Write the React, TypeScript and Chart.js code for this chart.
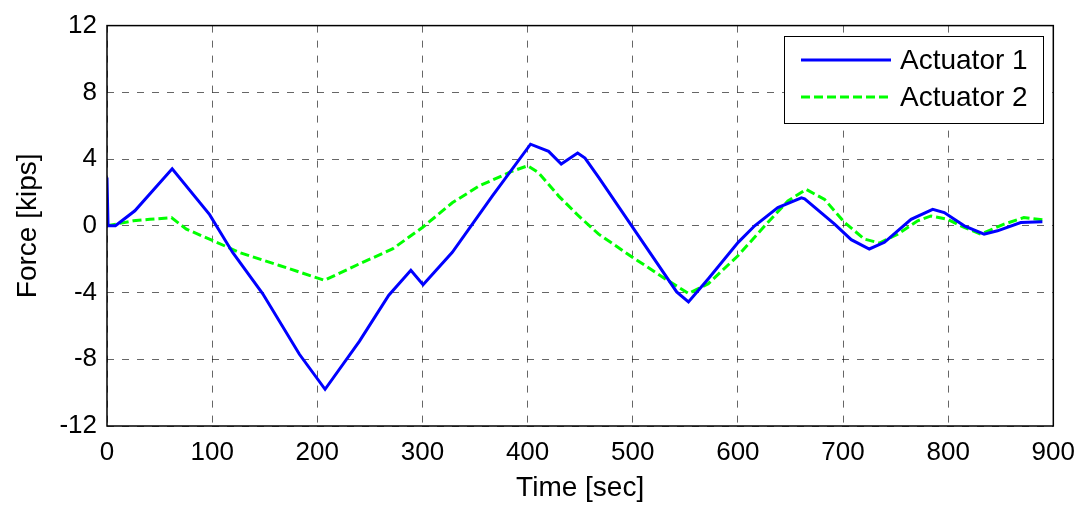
import React, { useEffect, useRef } from "react";
import { Chart, registerables } from "chart.js";

Chart.register(...registerables);

const xTicks = [0, 100, 200, 300, 400, 500, 600, 700, 800, 900];
const yTicks = [-12, -8, -4, 0, 4, 8, 12];

const labels = ["Actuator 1", "Actuator 2"];

const time1 = [0, 1, 8, 26.5, 62, 97.6, 104, 119.5, 148, 183, 207.4, 240, 268, 289, 300.6, 328.4, 366.4, 402.8, 420, 432, 447.6, 454.6, 467.6, 499, 541.8, 553, 571.9, 600.3, 616, 638, 660.4, 663.5, 692, 707.8, 725, 739.4, 764.7, 785.3, 796.3, 815.3, 834.2, 846.9, 869, 889.6];
const force1 = [2.9, 0.0, 0.0, 0.9, 3.42, 0.67, 0.0, -1.6, -4.06, -7.7, -9.8, -6.93, -4.16, -2.67, -3.53, -1.59, 1.78, 4.89, 4.46, 3.7, 4.36, 4.06, 2.9, 0.0, -3.96, -4.56, -3.17, -0.99, 0.0, 1.09, 1.68, 1.62, 0.1, -0.83, -1.39, -0.99, 0.39, 0.99, 0.79, 0.0, -0.5, -0.3, 0.2, 0.24];

const time2 = [0, 25, 40.8, 61.3, 75.5, 100.8, 126, 164, 183, 206.8, 240, 271.5, 300, 328.4, 353.7, 385.3, 400.2, 410.6, 429.6, 448.6, 467.6, 499, 530.7, 553, 571.9, 600.3, 625.6, 647.6, 665, 682.5, 701.4, 720.4, 734.7, 752, 771, 783.7, 799.5, 815.3, 831, 853.2, 872, 889.6];
const force2 = [0.0, 0.3, 0.39, 0.49, -0.2, -0.89, -1.6, -2.38, -2.77, -3.27, -2.28, -1.39, -0.1, 1.38, 2.38, 3.27, 3.6, 3.17, 1.78, 0.59, -0.5, -1.85, -3.17, -4.06, -3.47, -1.78, 0.0, 1.49, 2.18, 1.58, 0.2, -0.8, -1.03, -0.5, 0.3, 0.59, 0.39, -0.1, -0.5, 0.1, 0.49, 0.36];

const FONT = "'Liberation Sans', Arial, Helvetica, sans-serif";
const BLUE = "#0000FF";
const GREEN = "#00FF00";
const DASH = [9, 4];
const GRID_COLOR = "rgba(0,0,0,0.6)";

const framePlugin = {
  id: "frame",
  afterDatasetsDraw(chart: any) {
    const { ctx, chartArea } = chart;
    ctx.save();
    ctx.strokeStyle = "#000";
    ctx.lineWidth = 1.5;
    ctx.setLineDash([]);
    ctx.strokeRect(chartArea.left, chartArea.top, chartArea.right - chartArea.left, chartArea.bottom - chartArea.top);
    ctx.restore();
  },
};

const legendPlugin = {
  id: "boxLegend",
  afterDraw(chart: any) {
    const { ctx } = chart;
    const x0 = 784, y0 = 36, w = 259, h = 87;
    ctx.save();
    ctx.fillStyle = "#fff";
    ctx.fillRect(x0, y0, w, h);
    ctx.strokeStyle = "#000";
    ctx.lineWidth = 1;
    ctx.setLineDash([]);
    ctx.strokeRect(x0 + 0.5, y0 + 0.5, w, h);
    const rows = [y0 + 24, y0 + 61];
    chart.data.datasets.forEach((ds: any, i: number) => {
      const y = rows[i];
      ctx.beginPath();
      ctx.strokeStyle = ds.borderColor;
      ctx.lineWidth = ds.borderWidth;
      ctx.setLineDash(ds.borderDash || []);
      ctx.moveTo(x0 + 17, y);
      ctx.lineTo(x0 + 107, y);
      ctx.stroke();
      ctx.setLineDash([]);
      ctx.fillStyle = "#000";
      ctx.font = `28px ${FONT}`;
      ctx.textBaseline = "middle";
      ctx.textAlign = "left";
      ctx.fillText(ds.label, x0 + 116, y + 1);
    });
    ctx.restore();
  },
};

export default function App() {
  const ref = useRef<HTMLCanvasElement | null>(null);
  useEffect(() => {
    if (!ref.current) return;
    const chart = new Chart(ref.current, {
      type: "line",
      data: {
        datasets: [
          {
            label: labels[0],
            data: time1.map((t, i) => ({ x: t, y: force1[i] })),
            borderColor: BLUE,
            backgroundColor: BLUE,
            borderWidth: 3,
            pointRadius: 0,
            tension: 0,
            fill: false,
          },
          {
            label: labels[1],
            data: time2.map((t, i) => ({ x: t, y: force2[i] })),
            borderColor: GREEN,
            backgroundColor: GREEN,
            borderWidth: 3,
            borderDash: DASH,
            pointRadius: 0,
            tension: 0,
            fill: false,
          },
        ],
      },
      options: {
        responsive: false,
        animation: false,
        layout: { padding: { top: 22, right: 30, left: 0, bottom: 0 } },
        plugins: { legend: { display: false }, tooltip: { enabled: false } },
        scales: {
          x: {
            type: "linear",
            min: 0,
            max: 900,
            afterBuildTicks: (s: any) => { s.ticks = xTicks.map((v) => ({ value: v })); },
            afterFit: (s: any) => { s.height = 82; },
            ticks: { color: "#000", font: { family: FONT, size: 26 }, padding: 11, maxRotation: 0 },
            grid: { color: GRID_COLOR, lineWidth: 1, drawTicks: false },
            border: { display: false, dash: [7, 8] },
            title: { display: true, text: "Time [sec]", color: "#000", font: { family: FONT, size: 28, lineHeight: 1 }, padding: { top: 0, bottom: 6 } },
          },
          y: {
            type: "linear",
            min: -12,
            max: 12,
            afterBuildTicks: (s: any) => { s.ticks = yTicks.map((v) => ({ value: v })); },
            afterFit: (s: any) => { s.width = 107; },
            ticks: { color: "#000", font: { family: FONT, size: 26 }, padding: 10 },
            grid: { color: GRID_COLOR, lineWidth: 1, drawTicks: false },
            border: { display: false, dash: [7, 8] },
            title: { display: true, text: "Force [kips]", color: "#000", font: { family: FONT, size: 28, lineHeight: 1 }, padding: { top: 14, bottom: 0 } },
          },
        },
      },
      plugins: [framePlugin, legendPlugin],
    } as any);
    return () => chart.destroy();
  }, []);
  return (
    <div style={{ position: "fixed", left: 0, top: 0, width: 1086, height: 508, background: "#fff" }}>
      <canvas ref={ref} width={1086} height={508} style={{ width: 1086, height: 508, display: "block" }} />
    </div>
  );
}
